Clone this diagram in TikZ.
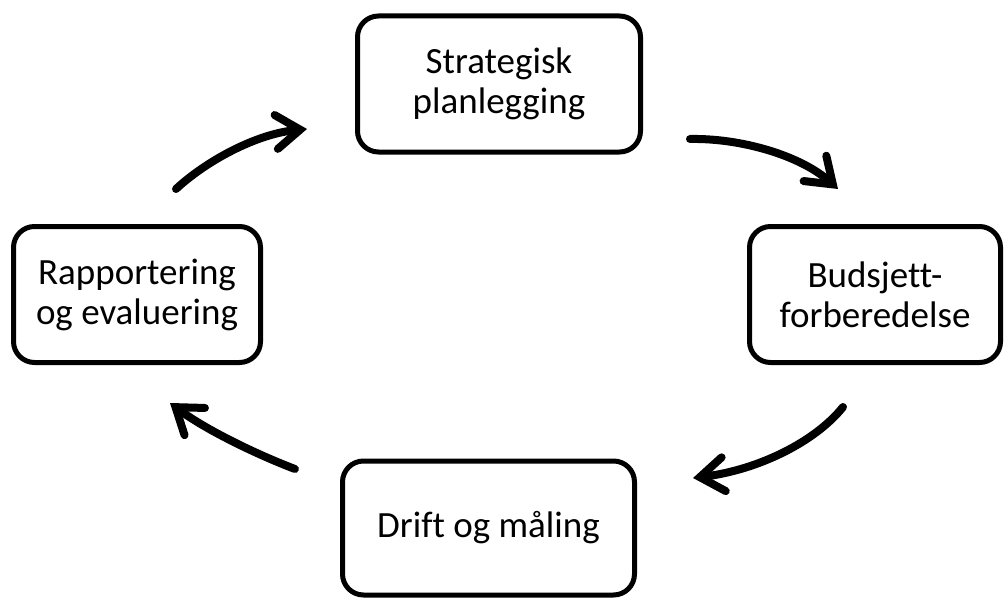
\documentclass[tikz,border=0pt]{standalone}
\usepackage{fontspec}
\setmainfont{Carlito}[Ligatures=CommonOff]
\usetikzlibrary{arrows.meta}

\tikzset{
  stage/.style={draw=black, line width=5pt, rounded corners=21pt, fill=white,
    align=center, inner sep=0pt,
    font=\fontsize{37}{40}\selectfont},
  flow/.style={line width=8pt, line cap=round,
    -{Straight Barb[length=24pt, width=34pt, line cap=round, line join=miter]}}
}

\begin{document}
\begin{tikzpicture}[x=1pt, y=-1pt]
  \useasboundingbox (0,0) rectangle (1006,599);

  % the four stages of the cycle
  \node[stage, minimum width=283pt, minimum height=136pt] (plan) at (499,84)
    {Strategisk\\planlegging};
  \node[stage, minimum width=251pt, minimum height=136pt] (budget) at (875,294.5)
    {Budsjett-\\forberedelse};
  \node[stage, minimum width=292pt, minimum height=134pt] (drift) at (488.5,528)
    {Drift og måling};
  \node[stage, minimum width=247pt, minimum height=136pt] (report) at (137,294.5)
    {Rapportering\\og evaluering};

  % end points of the curved arrows between the stages
  \coordinate (a1s) at (690,139);  \coordinate (a1e) at (838,189);
  \coordinate (a2s) at (843,407);  \coordinate (a2e) at (693,478);
  \coordinate (a3s) at (295,469);  \coordinate (a3e) at (170,403);
  \coordinate (a4s) at (176,189);  \coordinate (a4e) at (307,129);

  \draw[flow] (a1s) .. controls (740,138) and (800,155) .. (a1e);
  \draw[flow] (a2s) .. controls (815,442) and (758,470) .. (a2e);
  \draw[flow] (a3s) .. controls (258,455) and (206,430) .. (a3e);
  \draw[flow] (a4s) .. controls (205,162) and (255,134) .. (a4e);
\end{tikzpicture}
\end{document}
